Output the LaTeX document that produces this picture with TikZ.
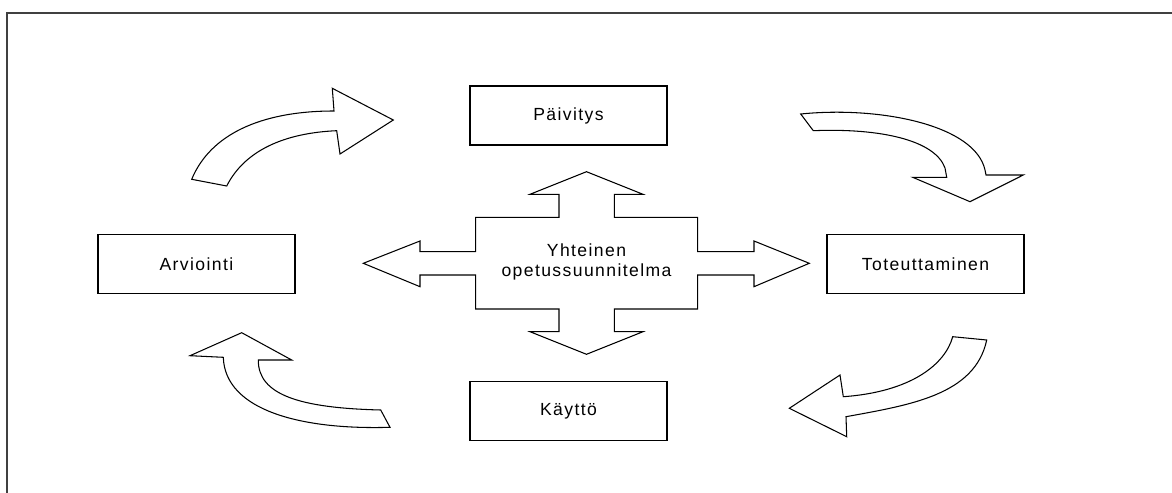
\documentclass[tikz,border=0pt]{standalone}
\usepackage{fontspec}
\setmainfont{Liberation Sans}[LetterSpace=8]
\usepackage{tikz}

\begin{document}
\begin{tikzpicture}[x=0.02cm, y=-0.02cm,
    stage/.style={rectangle, draw, line width=0.9pt, minimum width=3.94cm, minimum height=1.18cm, font=\fontsize{10}{11}\selectfont},
    blockarrow/.style={draw, line width=0.6pt, line join=miter, fill=white}]
  \useasboundingbox (0,0) rectangle (1172,493);

  % Frame
  \draw[line width=1.1pt, black!75] (7,493) -- (7,13) -- (1172,13);

  % Stages
  \node[stage] (paivitys) at (568.5,115.5) {Päivitys};
  \node[stage] (arviointi) at (196.5,264) {Arviointi};
  \node[stage] (toteutus) at (925.5,264) {Toteuttaminen};
  \node[stage] (kaytto) at (568.5,411) {Käyttö};

  % Centre cross
  \draw[blockarrow] (586.5,171.7) -- (643,194.3) -- (614.3,194.3) -- (614.3,217.3) -- (697.7,217.3)
    -- (697.7,251.7) -- (754,251.7) -- (754,241) -- (809.3,263.3) -- (754,286.7) -- (754,275)
    -- (697.7,275) -- (697.7,309) -- (614.3,309) -- (614.3,331.7) -- (643,331.7) -- (586.5,354.3)
    -- (530,331.7) -- (559,331.7) -- (559,309) -- (475.7,309) -- (475.7,275) -- (420,275)
    -- (420,286.7) -- (363.3,263.3) -- (420,241) -- (420,251.7) -- (475.7,251.7) -- (475.7,217.3)
    -- (559,217.3) -- (559,194.3) -- (530,194.3) -- cycle;
  \node[align=center, font=\fontsize{10}{11}\selectfont] (yhteinen) at (586.5,262) {Yhteinen\\opetussuunnitelma};

  % Cycle arrows
  \draw[blockarrow] (191.7,179.3) .. controls (210,135) and (260,111) .. (334,111)
    -- (332.3,88.3) -- (393.3,120) -- (340,154) -- (336.7,130.7)
    .. controls (285,133) and (245,150) .. (226.7,186) -- cycle;
  \draw[blockarrow] (800.7,114) .. controls (880,106) and (975,125) .. (985,170)
    -- (986,175) -- (1023.3,175) -- (970,201.7) -- (912.7,177.3) -- (946.7,177.3) -- (945,168)
    .. controls (935,140) and (880,128) .. (813.3,130.7) -- cycle;
  \draw[blockarrow] (986.7,340) .. controls (975,395) and (910,405) .. (846,416.7)
    -- (846.7,436.7) -- (789.3,408.3) -- (840,375) -- (843.3,396.7)
    .. controls (910,392) and (945,365) .. (952.7,336.7) -- cycle;
  \draw[blockarrow] (380.7,410) .. controls (300,408) and (258,395) .. (258.3,360)
    -- (291.7,360) -- (241.7,332.7) -- (190,355.7) -- (223.3,357.3)
    .. controls (225,410) and (300,430) .. (390,427.3) -- cycle;
\end{tikzpicture}
\end{document}
